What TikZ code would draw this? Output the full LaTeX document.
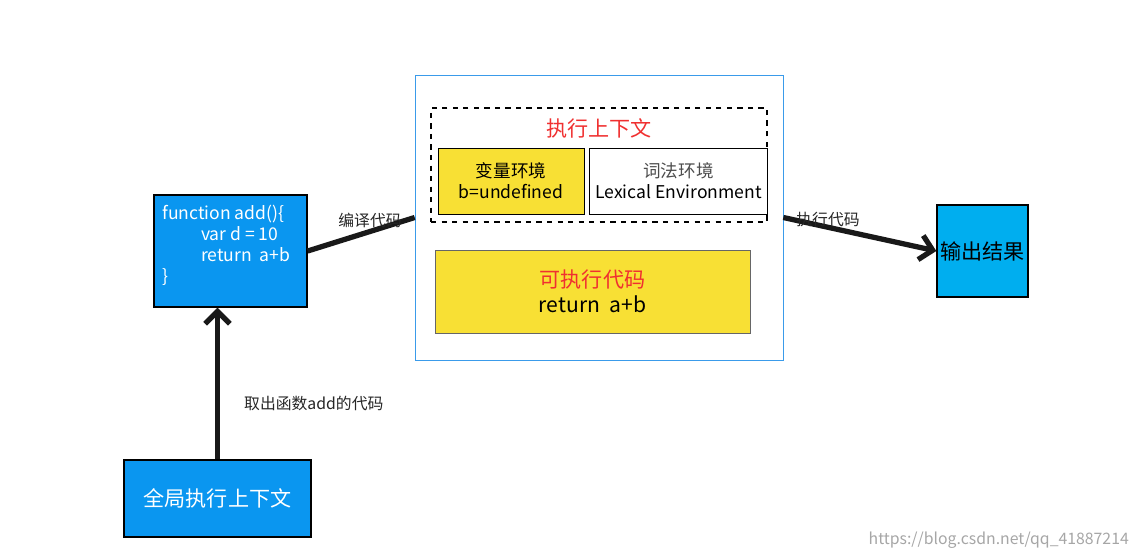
\documentclass[tikz,border=0pt]{standalone}
\usepackage{fontspec}
\setmainfont{Noto Sans CJK SC}
\usetikzlibrary{positioning,arrows.meta}
\definecolor{boxblue}{HTML}{0A96F0}
\definecolor{outblue}{HTML}{00AEEF}
\definecolor{codeyellow}{HTML}{F8E034}
\definecolor{frameblue}{HTML}{3A9BEA}
\definecolor{ctxred}{HTML}{F03030}
\begin{document}
\begin{tikzpicture}[x=0.02cm,y=-0.02cm,
    blk/.style={draw=black,thick,fill=boxblue,inner sep=0pt},
    lbl/.style={font=\small,text=black!85},
    thickline/.style={line width=3pt,black!90}]
        \useasboundingbox (0,0) rectangle (1142,558);

        % Add or remove nodes here, use the tuple for location
        \begin{scope}[every node/.style={blk}]
        \node (code) [minimum width=3.06cm,minimum height=2.24cm] at (230.5,251) {};
        \node (glob) [minimum width=3.74cm,minimum height=1.54cm,text=white,font=\large] at (217.5,498.5) {全局执行上下文};
        \node (out) [fill=outblue,minimum width=1.82cm,minimum height=1.84cm,font=\large] at (982.5,251) {输出结果};
        \end{scope}
        \node [anchor=north west,text=white,align=left,font=\normalsize,inner sep=0pt] at (162,205)
            {function add()\{\\\hspace{1.2em}\hspace{1.0em}var d = 10\\\hspace{2.2em}return\ \ a+b\\\}};

        % execution block
        \node (run) [draw=frameblue,fill=white,minimum width=7.36cm,minimum height=5.7cm] at (599,217.5) {};
        \node (ctx) [draw,dashed,thick,minimum width=6.72cm,minimum height=2.28cm] at (599,165) {};
        \node [text=ctxred,font=\large] at (599,128) {执行上下文};
        \node (var) [draw,fill=codeyellow,minimum width=2.92cm,minimum height=1.32cm,align=center,font=\normalsize] at (511,181) {变量环境\\b=undefined};
        \node (lex) [draw,fill=white,minimum width=3.3cm,minimum height=1.32cm,align=center,font=\normalsize] at (678.5,181) {\textcolor{black!70}{词法环境}\\Lexical Environment};
        \node (exe) [draw=black!60,fill=codeyellow,minimum width=6.3cm,minimum height=1.66cm,align=center,font=\large] at (592.5,291.5) {\textcolor{ctxred}{可执行代码}\\return\ \ a+b};

        % connectors
        \draw [thickline] (code.east) -- (run.west);
        \draw [thickline,-{Straight Barb[length=7pt,width=14pt,line width=3pt]}] (run.east) -- (out.west);
        \draw [thickline,-{Straight Barb[length=7pt,width=14pt,line width=3pt]}] (glob.north) -- (code.south -| glob.north);

        % labels
        \node [lbl] at (370,220) {编译代码};
        \node [lbl] at (828,220) {执行代码};
        \node [lbl,anchor=west] at (238,403) {取出函数add的代码};
        \node [text=black!35,font=\small,anchor=east] at (1135,540) {https://blog.csdn.net/qq\_41887214};
\end{tikzpicture}
\end{document}
